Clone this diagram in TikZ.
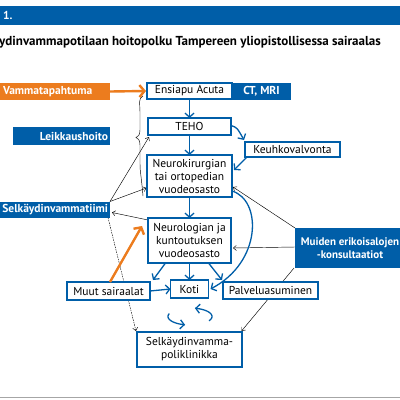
\documentclass[tikz,border=0pt]{standalone}
\usepackage{fontspec}
\setmainfont{PT Sans}
\usetikzlibrary{arrows.meta}
\definecolor{tblue}{RGB}{0,94,168}
\definecolor{torange}{RGB}{236,124,30}
\pgfdeclarelayer{background}
\pgfsetlayers{background,main}
\tikzset{
  wbox/.style={draw=tblue, line width=1.2pt, fill=white, inner sep=1pt, outer sep=0pt,
    font=\fontsize{11.5}{13}\selectfont, align=center},
  bbox/.style={fill=tblue, text=white, inner sep=1pt, outer sep=0pt,
    font=\bfseries\fontsize{11.5}{13}\selectfont, align=center},
  obox/.style={fill=torange, text=white, inner sep=1pt, outer sep=0pt,
    font=\bfseries\fontsize{11.5}{13}\selectfont, align=center},
  barrow/.style={draw=tblue, line width=1.3pt, -{Straight Barb[length=4pt,width=9pt]}},
  oarrow/.style={draw=torange, line width=2.4pt, -{Straight Barb[length=5pt,width=12pt]}},
  tarrow/.style={draw=black, line width=0.45pt, -{Straight Barb[length=3pt,width=5pt]}},
}
\begin{document}
\begin{tikzpicture}[x=1pt,y=-1pt]
\useasboundingbox (0,0) rectangle (400,400);
\clip (0,0) rectangle (400,400);
\begin{pgfonlayer}{background}
\fill[white] (0,0) rectangle (400,400);
\end{pgfonlayer}
% header
\fill[tblue] (0,6) rectangle (400,25);
\node[anchor=west, text=white, inner sep=0pt, font=\bfseries\fontsize{11.5}{12}\selectfont] (num) at (3,15.5) {1.};
\node[anchor=west, inner sep=0pt, font=\bfseries\fontsize{13}{15}\selectfont] (title) at (-1,42) {ydinvammapotilaan hoitopolku Tampereen yliopistollisessa sairaalas};
\draw[black!35, line width=1.5pt] (0,397.6) -- (400,397.6);

% boxes
\node[obox, minimum width=110pt, minimum height=17pt, text width=104pt, align=left] (vamma) at (55,91.5) {Vammatapahtuma};
\node[wbox, minimum width=85pt, minimum height=16pt] (ensiapu) at (189.5,91) {Ensiapu Acuta};
\node[bbox, minimum width=58pt, minimum height=17pt] (ctmri) at (261.5,91.5) {CT, MRI};
\node[wbox, minimum width=83pt, minimum height=17pt] (teho) at (189.5,126.5) {TEHO};
\node[bbox, minimum width=97pt, minimum height=18pt, text width=93pt, align=right] (leik) at (61.5,136) {Leikkaushoito};
\node[wbox, minimum width=95pt, minimum height=15pt] (keuhko) at (292.5,149.5) {Keuhkovalvonta};
\node[wbox, minimum width=85pt, minimum height=42pt] (neuro) at (189.5,176) {Neurokirurgian\\tai ortopedian\\vuodeosasto};
\node[bbox, minimum width=110pt, minimum height=16pt, text width=106pt, align=right] (tiimi) at (55,209.5) {Selkäydinvammatiimi};
\node[wbox, minimum width=83pt, minimum height=45pt] (neurol) at (189.5,240.5) {Neurologian ja\\kuntoutuksen\\vuodeosasto};
\node[bbox, minimum width=110pt, minimum height=40pt, font=\bfseries\fontsize{11}{13}\selectfont] (muiden) at (350,248) {Muiden erikoisalojen\\-konsultaatiot};
\node[wbox, minimum width=83pt, minimum height=18pt] (muut) at (108.5,291) {Muut sairaalat};
\node[wbox, minimum width=38pt, minimum height=18pt] (koti) at (189.5,289) {Koti};
\node[wbox, minimum width=95pt, minimum height=17pt] (palvelu) at (270.5,290.5) {Palveluasuminen};
\node[wbox, minimum width=105pt, minimum height=35pt] (poli) at (189.5,349.5) {Selkäydinvamma-\\poliklinikka};

% orange arrows
\draw[oarrow] (vamma.east) -- ([xshift=-1pt]ensiapu.west);
\draw[oarrow] ([xshift=1.5pt]muut.north) -- ([xshift=-6pt,yshift=-8pt]neurol.north west);

% blue arrows
\draw[barrow] (ensiapu.south) -- (teho.north);
\draw[barrow] (teho.south) -- (neuro.north);
\draw[barrow] ([yshift=1pt]teho.east) .. controls ([xshift=6pt,yshift=-1pt]teho.east) .. ([xshift=-1pt,yshift=2pt]keuhko.north west);
\draw[barrow] ([xshift=2pt]keuhko.south west) -- ([xshift=2pt,yshift=-15pt]neuro.north east);
\draw[barrow] (neuro.south) -- (neurol.north);
\draw[barrow] ([xshift=-24pt]neurol.south) -- ([xshift=3pt,yshift=2pt]muut.north east);
\draw[barrow] (neurol.south) -- (koti.north);
\draw[barrow] ([xshift=19pt]neurol.south) -- ([xshift=-1pt,yshift=2pt]palvelu.north west);
\draw[barrow] (muut.east) -- (koti.west);
\draw[barrow] ([yshift=-15pt]neuro.east) .. controls (262,200) and (262,262) .. ([xshift=2pt]koti.east);
\draw[barrow] plot[domain=30:-77, samples=40, smooth] ({190+22*cos(\x)},{316.5+8.5*sin(\x)});
\draw[barrow] plot[domain=-160:-257, samples=40, smooth] ({190+22*cos(\x)},{316.5+8.5*sin(\x)});

% thin black connectors
\begin{pgfonlayer}{background}
\draw[black, line width=0.45pt] ([xshift=-4pt,yshift=3pt]ensiapu.south west)
  .. controls (138,98) and (140,104) .. (140,112)
  -- (140,130) .. controls (140,135) and (138,137) .. (136,137.5)
  .. controls (138,138) and (140,140) .. (140,145)
  -- (140,164) .. controls (140,172) and (141,173) .. ([xshift=-4pt,yshift=-20pt]neuro.west);
\draw[tarrow] (tiimi.north east) -- ([xshift=1pt,yshift=-2pt]teho.south west);
\draw[tarrow] (tiimi.north east) -- ([xshift=-0.5pt,yshift=-12pt]neuro.west);
\draw[tarrow] ([yshift=-2pt]neurol.north west) -- ([xshift=2pt,yshift=-3pt]tiimi.east);
\draw[tarrow, dash pattern=on 1.5pt off 1pt] ([xshift=-2pt]tiimi.south east) -- ([xshift=-1pt,yshift=1pt]poli.north west);
\draw[tarrow] (muiden.north west) -- ([xshift=1pt,yshift=-11pt]neuro.east);
\draw[tarrow] ([yshift=1pt]muiden.west) -- ([xshift=2pt,yshift=-7.5pt]neurol.east);
\draw[tarrow] ([xshift=-1pt]muiden.south west) -- ([xshift=-0.5pt,yshift=1pt]poli.north east);
\end{pgfonlayer}
\end{tikzpicture}
\end{document}
